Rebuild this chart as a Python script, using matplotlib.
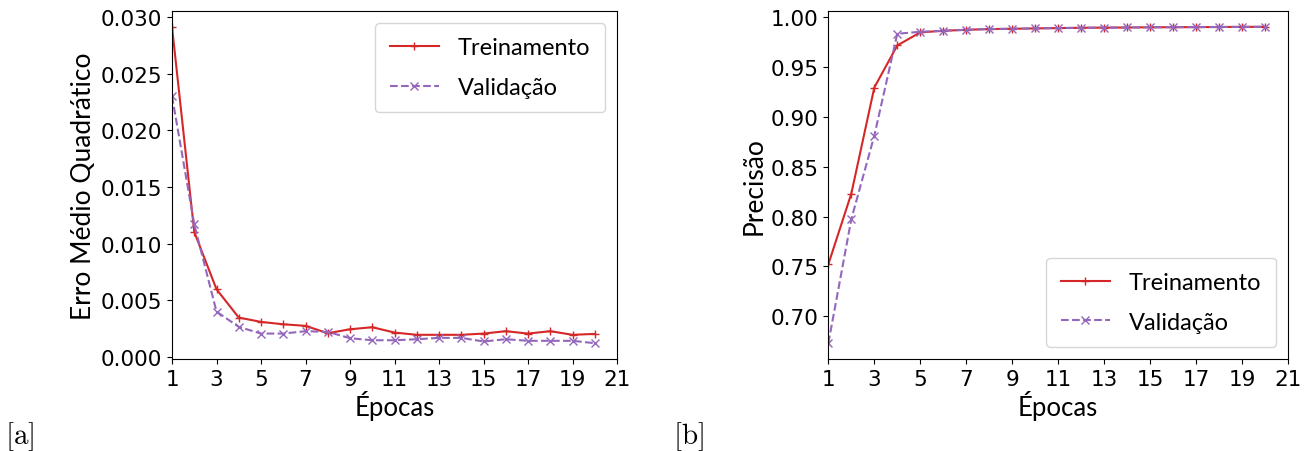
import numpy as np
import matplotlib
matplotlib.use("Agg")
import matplotlib.pyplot as plt

plt.rcParams['font.family'] = ['DejaVu Sans']
plt.rcParams['mathtext.fontset'] = 'cm'

epocas = list(range(1, 21))

mse_treino = [0.02914, 0.01104, 0.00598, 0.00348, 0.00310, 0.00289, 0.00275, 0.00210,
              0.00245, 0.00263, 0.00216, 0.00196, 0.00196, 0.00196, 0.00207, 0.00228,
              0.00207, 0.00228, 0.00196, 0.00204]
mse_valid = [0.02303, 0.01171, 0.00401, 0.00266, 0.00207, 0.00207, 0.00228, 0.00222,
             0.00166, 0.00148, 0.00148, 0.00157, 0.00169, 0.00169, 0.00137, 0.00157,
             0.00143, 0.00143, 0.00143, 0.00122]

prec_treino = [0.752, 0.823, 0.9295, 0.9718, 0.9849, 0.9865, 0.9875, 0.9882, 0.9885,
               0.9889, 0.9892, 0.9895, 0.9897, 0.9898, 0.9900, 0.9901, 0.9902, 0.9903,
               0.9904, 0.9905]
prec_valid = [0.6728, 0.7973, 0.8812, 0.9835, 0.9855, 0.9865, 0.9875, 0.9882, 0.9885,
              0.9889, 0.9892, 0.9895, 0.9897, 0.9898, 0.9900, 0.9901, 0.9902, 0.9903,
              0.9904, 0.9905]

xticks = list(range(1, 22, 2))

lato = 'Lato'
tick_fs = 15.5
label_fs = 19
leg_fs = 17

fig = plt.figure(figsize=(13.09, 4.52), dpi=100)
ax1 = fig.add_axes([0.1314, 0.2035, 0.340, 0.770])
ax2 = fig.add_axes([0.6328, 0.2035, 0.3512, 0.770])


def desenha(ax, treino, valid, ylabel, loc):
    ax.plot(epocas, treino, color='tab:red', marker='+', linestyle='-',
            linewidth=1.5, label='Treinamento')
    ax.plot(epocas, valid, color='tab:purple', marker='x', linestyle='--',
            linewidth=1.5, label='Validação')
    ax.set_xlim(1, 21)
    ax.set_xticks(xticks)
    ax.tick_params(labelsize=tick_fs)
    ax.set_xlabel('Épocas', fontsize=18.5, family=lato, labelpad=1)
    ax.set_ylabel(ylabel, fontsize=label_fs, family=lato, labelpad=3)
    ax.legend(loc=loc, prop={'family': lato, 'size': leg_fs},
              labelspacing=0.78, borderpad=0.62, handlelength=2.1)


desenha(ax1, mse_treino, mse_valid, 'Erro Médio Quadrático', 'upper right')
ax1.set_yticks(np.arange(0, 0.0301, 0.005))
ax1.set_yticklabels([f'{v:.3f}' for v in np.arange(0, 0.0301, 0.005)])

desenha(ax2, prec_treino, prec_valid, 'Precisão', 'lower right')
ax2.set_yticks(np.arange(0.70, 1.001, 0.05))
ax2.set_yticklabels([f'{v:.2f}' for v in np.arange(0.70, 1.001, 0.05)])

fig.text(0.004, 0.017, r'$\mathrm{[a]}$', fontsize=21)
fig.text(0.514, 0.017, r'$\mathrm{[b]}$', fontsize=21)

fig.savefig('out.png', dpi=100)
